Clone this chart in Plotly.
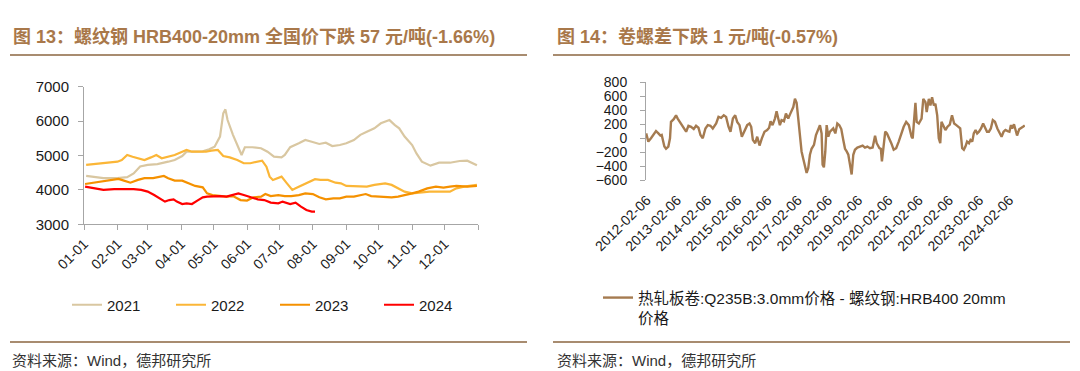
import plotly.graph_objects as go

W, H = 1080, 371

# ---------------- Left chart data (figure 13) ----------------
month_labels = ["01-01", "02-01", "03-01", "04-01", "05-01", "06-01",
                "07-01", "08-01", "09-01", "10-01", "11-01", "12-01"]

d2021 = ["01-03", "01-13", "01-19", "02-01", "02-10", "02-16", "02-22", "03-01", "03-10", "03-20",
         "03-26", "04-02", "04-06", "04-14", "04-21", "04-27", "05-02", "05-07", "05-10", "05-12",
         "05-14", "05-19", "05-24", "05-27", "05-30", "06-06", "06-14", "06-20", "06-26", "07-03",
         "07-06", "07-11", "07-19", "07-25", "07-31", "08-07", "08-13", "08-19", "08-26", "09-01",
         "09-08", "09-14", "09-20", "09-27", "10-03", "10-11", "10-16", "10-20", "10-25", "11-01",
         "11-05", "11-10", "11-18", "11-26", "12-06", "12-15", "12-22", "12-31"]
v2021 = [4410, 4370, 4340, 4340, 4370, 4480, 4680, 4725, 4750, 4820,
         4870, 4985, 5110, 5110, 5120, 5180, 5255, 5550, 6225, 6340,
         6030, 5600, 5255, 5015, 5240, 5240, 5210, 5110, 4965, 4945,
         5015, 5240, 5355, 5450, 5400, 5335, 5370, 5275, 5305, 5355,
         5450, 5600, 5690, 5790, 5935, 6030, 5885, 5790, 5550, 5305,
         5060, 4820, 4705, 4790, 4790, 4840, 4850, 4715]

d2022 = ["01-03", "01-19", "02-01", "02-05", "02-10", "02-15", "02-20", "02-26", "03-04", "03-09",
         "03-14", "03-20", "03-26", "04-02", "04-06", "04-11", "04-18", "04-24", "04-29", "05-05",
         "05-10", "05-16", "05-23", "05-29", "06-04", "06-11", "06-15", "06-19", "06-22", "06-25",
         "06-30", "07-03", "07-08", "07-13", "07-16", "07-23", "07-29", "08-03", "08-08", "08-15",
         "08-22", "08-27", "09-01", "09-11", "09-20", "09-27", "10-07", "10-13", "10-20", "10-25",
         "11-01", "11-07", "11-17", "11-26", "12-06", "12-12", "12-19", "12-31"]
v2022 = [4725, 4775, 4820, 4870, 5015, 4965, 4920, 4870, 4945, 5015,
         4920, 4965, 5015, 5110, 5160, 5110, 5110, 5110, 5140, 5160,
         4985, 4945, 4870, 4775, 4775, 4820, 4850, 4675, 4385, 4290,
         4340, 4385, 4190, 4000, 4045, 4145, 4240, 4310, 4290, 4290,
         4210, 4190, 4115, 4115, 4095, 4145, 4190, 4145, 4045, 3950,
         3900, 3920, 3950, 3950, 3950, 4045, 4095, 4145]

d2023 = ["01-02", "01-10", "01-19", "01-29", "02-02", "02-07", "02-13", "02-20", "02-26", "03-06",
         "03-14", "03-16", "03-20", "03-26", "04-02", "04-08", "04-14", "04-21", "04-25", "04-30",
         "05-07", "05-13", "05-19", "05-26", "06-01", "06-07", "06-14", "06-18", "06-23", "06-30",
         "07-06", "07-12", "07-19", "07-25", "08-01", "08-07", "08-13", "08-20", "08-26", "09-01",
         "09-08", "09-14", "09-19", "09-24", "09-30", "10-07", "10-13", "10-19", "10-26", "11-01",
         "11-07", "11-15", "11-23", "11-30", "12-06", "12-12", "12-22", "12-31"]
v2023 = [4172, 4210, 4240, 4290, 4320, 4270, 4210, 4290, 4340, 4340,
         4385, 4405, 4340, 4270, 4270, 4190, 4115, 4075, 3900, 3850,
         3820, 3805, 3820, 3705, 3690, 3785, 3805, 3880, 3820, 3850,
         3820, 3820, 3850, 3900, 3880, 3785, 3725, 3755, 3755, 3805,
         3805, 3850, 3880, 3820, 3805, 3785, 3785, 3805, 3850, 3900,
         3950, 4045, 4095, 4065, 4095, 4115, 4095, 4115]

d2024 = ["01-02", "01-10", "01-19", "01-29", "02-07", "02-16", "02-23", "03-01", "03-07", "03-12",
         "03-17", "03-21", "03-25", "03-28", "04-02", "04-06", "04-11", "04-16", "04-21", "04-25",
         "04-30", "05-07", "05-13", "05-19", "05-24", "05-29", "06-04", "06-11", "06-17", "06-23",
         "06-30", "07-04", "07-11", "07-16", "07-21", "07-26", "07-31", "08-03"]
v2024 = [4095, 4045, 4000, 4020, 4030, 4020, 4000, 3950, 3850, 3755,
         3660, 3705, 3725, 3660, 3590, 3610, 3590, 3690, 3785, 3805,
         3820, 3820, 3805, 3850, 3900, 3850, 3785, 3725, 3705, 3630,
         3610, 3660, 3590, 3630, 3515, 3415, 3370, 3370]

years = ["2021", "2022", "2023", "2024"]
year_dates = [d2021, d2022, d2023, d2024]
year_values = [v2021, v2022, v2023, v2024]
year_colors = ["#D9C7A1", "#FBB637", "#F59100", "#FF0000"]

# ---------------- Right chart data (figure 14) ----------------
spread_dates = [
    "2012-01-30", "2012-02-25", "2012-03-28", "2012-04-29", "2012-05-28", "2012-06-26", "2012-07-20",
    "2012-08-05", "2012-09-06", "2012-09-26", "2012-10-24", "2012-11-13", "2012-11-25", "2012-12-28",
    "2013-01-25", "2013-02-14", "2013-03-27", "2013-05-07", "2013-05-27", "2013-06-24", "2013-07-26",
    "2013-08-27", "2013-09-24", "2013-10-23", "2013-11-16", "2013-12-14", "2014-01-15", "2014-02-13",
    "2014-03-17", "2014-04-14", "2014-05-25", "2014-06-22", "2014-07-24", "2014-08-25", "2014-09-22",
    "2014-10-21", "2014-11-14", "2014-12-13", "2015-01-10", "2015-02-03", "2015-03-03", "2015-03-31",
    "2015-05-02", "2015-06-04", "2015-07-02", "2015-07-22", "2015-08-11", "2015-09-09", "2015-10-03",
    "2015-10-31", "2015-11-28", "2015-12-30", "2016-01-31", "2016-02-24", "2016-03-12", "2016-04-05",
    "2016-05-04", "2016-05-24", "2016-06-13", "2016-07-03", "2016-07-23", "2016-08-21", "2016-09-14",
    "2016-10-12", "2016-11-01", "2016-11-22", "2016-12-12", "2017-01-01", "2017-01-21", "2017-02-10",
    "2017-03-02", "2017-03-22", "2017-04-11", "2017-05-02", "2017-05-22", "2017-06-11", "2017-07-01",
    "2017-07-21", "2017-08-19", "2017-09-12", "2017-10-10", "2017-10-30", "2017-11-19", "2017-12-01",
    "2017-12-17", "2018-01-03", "2018-01-19", "2018-02-08", "2018-02-28", "2018-03-20", "2018-04-09",
    "2018-05-04", "2018-05-28", "2018-06-21", "2018-07-15", "2018-08-08", "2018-08-29", "2018-09-18",
    "2018-10-08", "2018-10-28", "2018-11-17", "2018-12-07", "2018-12-27", "2019-01-25", "2019-02-26",
    "2019-03-30", "2019-04-27", "2019-05-26", "2019-06-27", "2019-07-29", "2019-08-27", "2019-09-16",
    "2019-10-18", "2019-11-05", "2019-11-18", "2019-12-10", "2019-12-28", "2020-01-18", "2020-02-16",
    "2020-03-10", "2020-04-08", "2020-05-08", "2020-06-08", "2020-07-08", "2020-08-07", "2020-09-06",
    "2020-10-08", "2020-11-10", "2020-11-24", "2020-12-09", "2020-12-27", "2021-01-11", "2021-02-06",
    "2021-03-11", "2021-04-01", "2021-04-27", "2021-05-12", "2021-06-07", "2021-06-26", "2021-07-16",
    "2021-08-07", "2021-08-25", "2021-09-16", "2021-10-05", "2021-10-23", "2021-11-07", "2021-12-06",
    "2021-12-24", "2022-01-18", "2022-02-15", "2022-03-14", "2022-04-09", "2022-05-05", "2022-05-27",
    "2022-06-21", "2022-07-15", "2022-08-04", "2022-08-23", "2022-09-12", "2022-10-05", "2022-10-23",
    "2022-11-14", "2022-12-02", "2022-12-24", "2023-01-12", "2023-02-03", "2023-02-28", "2023-03-25",
    "2023-04-16", "2023-05-11", "2023-06-03", "2023-06-26", "2023-07-20", "2023-08-15", "2023-09-13",
    "2023-10-08", "2023-11-03", "2023-11-27", "2023-12-20", "2024-01-15", "2024-02-06", "2024-02-24",
    "2024-03-10", "2024-04-01", "2024-04-20", "2024-05-08", "2024-06-03", "2024-07-01", "2024-07-23",
    "2024-08-09"]
spread_values = [
    70, -47, 0, 47, 103, 70, 38,
    47, -118, -150, -118, 0, 235, 273,
    329, 282, 212, 141, 94, 179, 165,
    132, 179, 150, 47, 0, 141, 188,
    179, 141, 212, 306, 291, 329, 306,
    165, 94, 282, 329, 235, 188, 23,
    118, 188, 212, 165, -23, -70, 23,
    -103, 0, 94, 118, 150, 244, 188,
    282, 385, 282, 188, 259, 244, 353,
    282, 338, 385, 447, 564, 508, 282,
    0, -188, -291, -400, -494, -423, -235,
    -150, -94, 47, 118, 188, 70, -376,
    -414, -188, 188, 23, 94, 118, 141,
    70, 212, 188, 132, -23, -150, -188,
    -235, -376, -517, -235, -164, -132, -118,
    -103, -132, -118, -141, -132, 38, -70,
    -141, -150, -329, -70, 94, 70, 0,
    -70, -164, -141, -47, 70, 165, 235,
    188, 23, 0, 235, 508, 235, 212,
    282, 564, 517, 376, 564, 470, 588,
    470, 494, 329, 0, -70, 235, 165,
    118, 165, 197, 329, 212, 188, 165,
    141, -141, -164, -118, -47, -70, -23,
    -47, 70, 118, 70, 94, 141, 212,
    165, 94, 94, 141, 259, 235, 141,
    70, 23, 94, 118, 103, 94, 188,
    141, 200, 120, 40, 130, 160, 170,
    185]
spread_name = "热轧板卷:Q235B:3.0mm价格 - 螺纹钢:HRB400 20mm<br>价格"
year_ticks = ["2012-02-06", "2013-02-06", "2014-02-06", "2015-02-06", "2016-02-06", "2017-02-06",
              "2018-02-06", "2019-02-06", "2020-02-06", "2021-02-06", "2022-02-06", "2023-02-06",
              "2024-02-06"]

# ---------------- styling ----------------
FONT = "Liberation Sans, Arial, Noto Sans CJK SC"
AXIS_GRAY = "#A6A6A6"
TITLE_COLOR = "#A9784A"
RULE_COLOR = "#A88C70"
TEXT = "#1A1A1A"


def px_x(x):
    return x / W


def px_y(y):
    return 1 - y / H


fig = go.Figure()

for name, dts, vals, col in zip(years, year_dates, year_values, year_colors):
    fig.add_trace(go.Scatter(
        x=["2021-" + d for d in dts], y=vals, name=name, mode="lines",
        line=dict(color=col, width=2.2), xaxis="x", yaxis="y", legend="legend"))

fig.add_trace(go.Scatter(
    x=spread_dates, y=spread_values, name=spread_name, mode="lines",
    line=dict(color="#A57B50", width=2.4), xaxis="x2", yaxis="y2", legend="legend2"))

left_dom_x = [px_x(84), px_x(478)]
left_dom_y = [px_y(224.3), px_y(86.7)]
right_dom_x = [px_x(646), px_x(1025)]
right_dom_y = [px_y(180.3), px_y(82.3)]
right_range = ["2012-01-28", "2024-08-12"]
yr_min, yr_max = -600, 800
zero_pos = right_dom_y[0] + (0 - yr_min) / (yr_max - yr_min) * (right_dom_y[1] - right_dom_y[0])

axis_common = dict(showgrid=False, zeroline=False, linecolor=AXIS_GRAY, tickcolor=AXIS_GRAY,
                   linewidth=1, automargin=False)

fig.update_layout(
    template="none",
    width=W, height=H, margin=dict(l=0, r=0, t=0, b=0, autoexpand=False),
    paper_bgcolor="white", plot_bgcolor="white",
    font=dict(family=FONT, color=TEXT),
    xaxis=dict(domain=left_dom_x, anchor="y", type="date",
               range=["2021-01-01", "2022-01-01"],
               tickvals=["2021-" + m for m in month_labels] + ["2022-01-01"],
               ticktext=month_labels + [""],
               tickangle=-45, ticks="outside", ticklen=5, showline=True,
               tickfont=dict(size=14, color=TEXT), **axis_common),
    yaxis=dict(domain=left_dom_y, anchor="x", range=[3000, 7000], dtick=1000,
               ticks="outside", ticklen=5, showline=True, ticklabelstandoff=6,
               tickfont=dict(size=15, color=TEXT), **axis_common),
    xaxis2=dict(domain=right_dom_x, anchor="y2", type="date", range=right_range,
                tickvals=year_ticks, ticktext=year_ticks, tickangle=-45,
                ticks="", showline=False, ticklabelstandoff=8,
                tickfont=dict(size=14, color=TEXT), **axis_common),
    yaxis2=dict(domain=right_dom_y, anchor="x2", range=[yr_min, yr_max], dtick=200,
                ticks="outside", ticklen=5, showline=True, ticklabelstandoff=10,
                tickfont=dict(size=14, color=TEXT), **axis_common),
    xaxis3=dict(domain=right_dom_x, overlaying="x2", anchor="free", position=zero_pos,
                type="date", range=right_range, tickvals=year_ticks,
                showticklabels=False, ticks="inside", ticklen=4, showline=True,
                **axis_common),
    legend=dict(orientation="h", x=px_x(67), y=px_y(305), xanchor="left", yanchor="middle",
                font=dict(size=15, color=TEXT), entrywidth=59, entrywidthmode="pixels",
                bgcolor="rgba(0,0,0,0)", itemclick=False),
    legend2=dict(orientation="v", x=px_x(598), y=px_y(281), xanchor="left", yanchor="top",
                 font=dict(size=15.5, color=TEXT), valign="top",
                 bgcolor="rgba(0,0,0,0)", itemclick=False),
)

# Titles, sources and rules
annotations = [
    dict(text="<b>图 13：螺纹钢 HRB400-20mm 全国价下跌 57 元/吨(-1.66%)</b>",
         x=px_x(11), y=px_y(37), xanchor="left", yanchor="middle",
         font=dict(size=18, color=TITLE_COLOR)),
    dict(text="<b>图 14：卷螺差下跌 1 元/吨(-0.57%)</b>",
         x=px_x(555), y=px_y(37), xanchor="left", yanchor="middle",
         font=dict(size=18, color=TITLE_COLOR)),
    dict(text="资料来源：Wind，德邦研究所", x=px_x(10), y=px_y(360), xanchor="left",
         yanchor="middle", font=dict(size=15, color="#333333")),
    dict(text="资料来源：Wind，德邦研究所", x=px_x(555), y=px_y(360), xanchor="left",
         yanchor="middle", font=dict(size=15, color="#333333")),
]
for a in annotations:
    a.update(xref="paper", yref="paper", showarrow=False)
fig.update_layout(annotations=annotations)

shapes = []
for (x0, x1) in [(10, 527), (553, 1070)]:
    for y in (55, 342):
        shapes.append(dict(type="line", xref="paper", yref="paper",
                           x0=px_x(x0), x1=px_x(x1), y0=px_y(y), y1=px_y(y),
                           line=dict(color=RULE_COLOR, width=2)))
fig.update_layout(shapes=shapes)

fig.write_html("out.html", config={"displayModeBar": False},
               post_script="document.body.style.margin='0px';")
